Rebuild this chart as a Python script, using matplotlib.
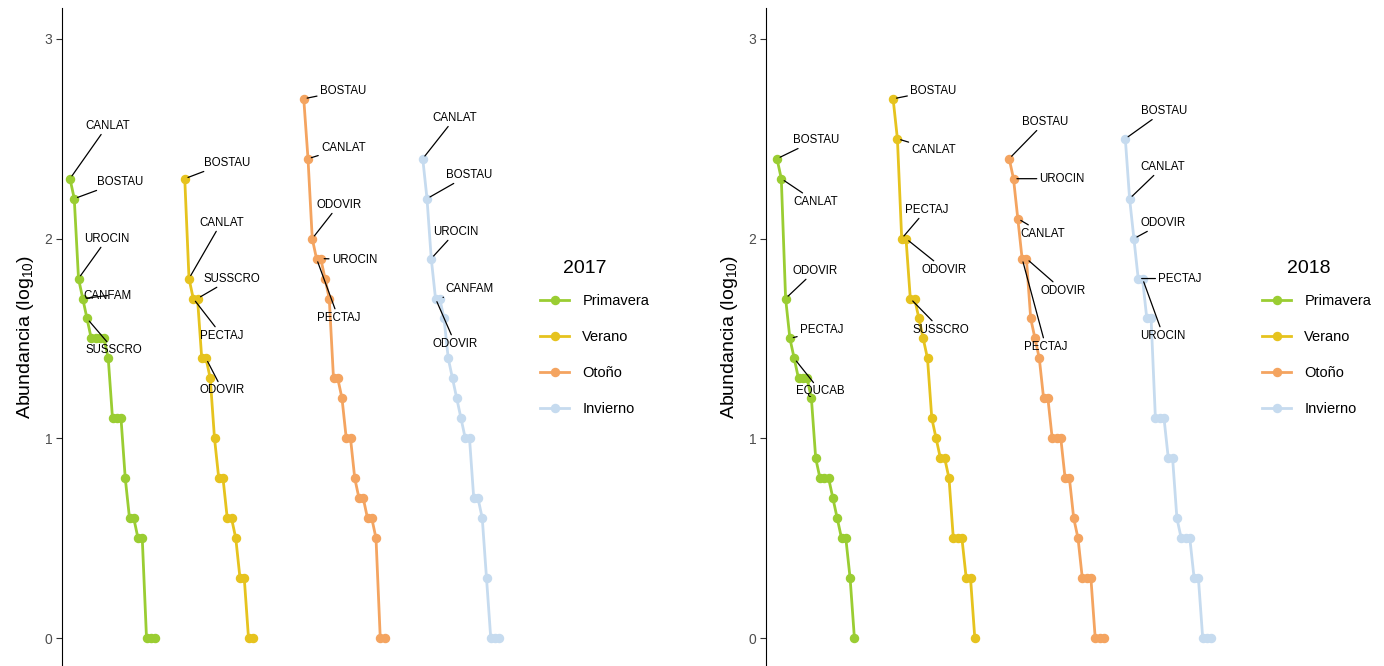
import matplotlib
matplotlib.use("Agg")
import matplotlib.pyplot as plt
from matplotlib.lines import Line2D

plt.rcParams["font.family"] = ["Liberation Sans", "DejaVu Sans"]
plt.rcParams["mathtext.default"] = "regular"

# ---- data: log10 abundance per species, ranked within each season ----
seasons = ["Primavera", "Verano", "Otoño", "Invierno"]
colors = ["#9ACD32", "#E6C31E", "#F4A460", "#C6DBEF"]

abund_2017 = {
    "Primavera": [2.3, 2.2, 1.8, 1.7, 1.6, 1.5, 1.5, 1.5, 1.5, 1.4, 1.1, 1.1, 1.1,
                  0.8, 0.6, 0.6, 0.5, 0.5, 0.0, 0.0, 0.0],
    "Verano": [2.3, 1.8, 1.7, 1.7, 1.4, 1.4, 1.3, 1.0, 0.8, 0.8, 0.6, 0.6, 0.5,
               0.3, 0.3, 0.0, 0.0],
    "Otoño": [2.7, 2.4, 2.0, 1.9, 1.9, 1.8, 1.7, 1.3, 1.3, 1.2, 1.0, 1.0, 0.8,
              0.7, 0.7, 0.6, 0.6, 0.5, 0.0, 0.0],
    "Invierno": [2.4, 2.2, 1.9, 1.7, 1.7, 1.6, 1.4, 1.3, 1.2, 1.1, 1.0, 1.0, 0.7,
                 0.7, 0.6, 0.3, 0.0, 0.0, 0.0],
}
abund_2018 = {
    "Primavera": [2.4, 2.3, 1.7, 1.5, 1.4, 1.3, 1.3, 1.3, 1.2, 0.9, 0.8, 0.8, 0.8,
                  0.7, 0.6, 0.5, 0.5, 0.3, 0.0],
    "Verano": [2.7, 2.5, 2.0, 2.0, 1.7, 1.7, 1.6, 1.5, 1.4, 1.1, 1.0, 0.9, 0.9,
               0.8, 0.5, 0.5, 0.5, 0.3, 0.3, 0.0],
    "Otoño": [2.4, 2.3, 2.1, 1.9, 1.9, 1.6, 1.5, 1.4, 1.2, 1.2, 1.0, 1.0, 1.0,
              0.8, 0.8, 0.6, 0.5, 0.3, 0.3, 0.3, 0.0, 0.0, 0.0],
    "Invierno": [2.5, 2.2, 2.0, 1.8, 1.8, 1.6, 1.6, 1.1, 1.1, 1.1, 0.9, 0.9, 0.6,
                 0.5, 0.5, 0.5, 0.3, 0.3, 0.0, 0.0, 0.0],
}

# top five species codes of each season (in rank order)
species_2017 = {
    "Primavera": ["CANLAT", "BOSTAU", "UROCIN", "CANFAM", "SUSSCRO"],
    "Verano": ["BOSTAU", "CANLAT", "PECTAJ", "SUSSCRO", "ODOVIR"],
    "Otoño": ["BOSTAU", "CANLAT", "ODOVIR", "PECTAJ", "UROCIN"],
    "Invierno": ["CANLAT", "BOSTAU", "UROCIN", "ODOVIR", "CANFAM"],
}
species_2018 = {
    "Primavera": ["BOSTAU", "CANLAT", "ODOVIR", "PECTAJ", "EQUCAB"],
    "Verano": ["BOSTAU", "CANLAT", "PECTAJ", "ODOVIR", "SUSSCRO"],
    "Otoño": ["BOSTAU", "UROCIN", "CANLAT", "PECTAJ", "ODOVIR"],
    "Invierno": ["BOSTAU", "CANLAT", "ODOVIR", "PECTAJ", "UROCIN"],
}

# ---- layout ----
# rank position where each season's curve starts inside its panel
start_2017 = [0, 27, 55, 83]
start_2018 = [0, 27, 54, 81]

# label placement: (rank index within season, dx px, dy px) for the repelled labels
lab_2017 = {
    "Primavera": [(0, 15, 53), (1, 23, 17), (2, 6, 40), (3, 1, 3), (4, -1, -32)],
    "Verano": [(0, 19, 16), (1, 10, 56), (2, 7, -37), (3, 6, 20), (5, -6, -32)],
    "Otoño": [(0, 16, 8), (1, 13, 11), (2, 4, 34), (3, 0, -59), (4, 11, -1)],
    "Invierno": [(0, 10, 41), (1, 19, 24), (2, 2, 27), (3, -3, -45), (4, 6, 10)],
}
lab_2018 = {
    "Primavera": [(0, 16, 19), (1, 12, -23), (2, 7, 28), (3, 10, 8), (4, 2, -33)],
    "Verano": [(0, 17, 8), (1, 14, -11), (2, 3, 29), (3, 16, -31), (4, 2, -31)],
    "Otoño": [(0, 13, 37), (1, 26, 0), (2, 3, -15), (3, 2, -88), (4, 14, -32)],
    "Invierno": [(0, 16, 28), (1, 11, 32), (2, 7, 16), (3, 20, 0), (4, -2, -57)],
}

W, H = 1384, 666
fig = plt.figure(figsize=(W / 100, H / 100), dpi=100)

ylim = (-(666 - 638) / 199.7, (638 - 8) / 199.7)


def panel(left_px, right_px, first_px, step_px, year, abund, species, starts, labels,
          legend_x_px, title_x_px):
    ax = fig.add_axes([left_px / W, 0, (right_px - left_px) / W, (H - 8) / H])
    ax.set_xlim((left_px - first_px) / step_px, (right_px - first_px) / step_px)
    ax.set_ylim(*ylim)
    for s, col, st in zip(seasons, colors, starts):
        vals = abund[s]
        xs = [st + i for i in range(len(vals))]
        ax.plot(xs, vals, color=col, lw=2.0, marker="o", ms=5.8, mec=col, mfc=col,
                solid_capstyle="round", zorder=2)
        for (i, dx, dy), name in zip(labels[s], species[s]):
            ax.annotate(name, xy=(xs[i], vals[i]), xytext=(dx, dy),
                        textcoords="offset pixels", ha="left", va="center",
                        fontsize=8.3, color="black", zorder=3,
                        arrowprops=dict(arrowstyle="-", color="black", lw=0.9,
                                        shrinkA=0, shrinkB=2.5))
    for sp in ("top", "right", "bottom"):
        ax.spines[sp].set_visible(False)
    ax.spines["left"].set_color("black")
    ax.spines["left"].set_linewidth(0.8)
    ax.set_xticks([])
    ax.set_yticks([0, 1, 2, 3])
    ax.tick_params(axis="y", length=4, width=0.8, color="#333333",
                   labelcolor="#4D4D4D", labelsize=10, pad=3)
    ax.set_ylabel("Abundancia (log$_{10}$)", fontsize=14, color="black", labelpad=6)

    handles = [Line2D([], [], color=c, lw=2.0, marker="o", ms=5.8) for c in colors]
    ax.legend(handles, seasons, loc="center left",
              bbox_to_anchor=(legend_x_px / W, (H - 355) / H),
              bbox_transform=fig.transFigure, frameon=False, fontsize=10.5,
              handlelength=2.0, handletextpad=0.9,
              labelspacing=1.5, borderpad=0, borderaxespad=0)
    fig.text(title_x_px / W, (H - 269) / H, year, fontsize=14, color="black",
             ha="left", va="center")
    return ax


panel(62, 520, 70, 4.25, "2017", abund_2017, species_2017, start_2017, lab_2017,
      540, 563)
panel(766, 1222, 777, 4.3, "2018", abund_2018, species_2018, start_2018, lab_2018,
      1262, 1287)

fig.savefig("out.png", dpi=100)
